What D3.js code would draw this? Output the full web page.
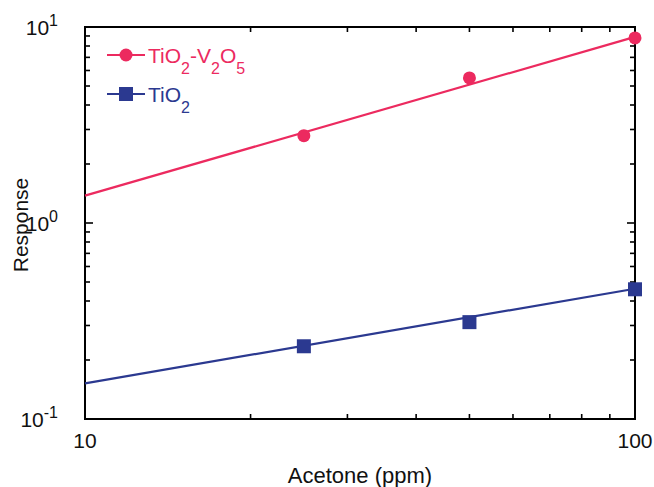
<!DOCTYPE html>
<html><head><meta charset="utf-8">
<script src="https://cdn.jsdelivr.net/npm/d3@7"></script>
<style>html,body{margin:0;padding:0;background:#fff}svg{display:block;font-family:"Liberation Sans",Arial,sans-serif}</style>
</head><body><svg id="c" width="654" height="487"></svg>
<script>
const concentrations = [25, 50, 100];
const tiO2V2O5 = [2.79, 5.5, 8.8];
const tiO2 = [0.235, 0.312, 0.459];
const fitX = [10, 100];
const fitTiO2V2O5 = [1.38, 8.9];
const fitTiO2 = [0.152, 0.462];
const xTicks = [10, 100];
const yTicks = [0.1, 1, 10];
const yTickExp = ["-1", "0", "1"];

const red = "#EC2A5F", blue = "#2B3990";
const svg = d3.select("#c");
const m = {l:85, r:635, t:27, b:419};
const x = d3.scaleLog().domain([10,100]).range([m.l, m.r]);
const y = d3.scaleLog().domain([0.1,10]).range([m.b, m.t]);

// minor ticks
const xMinor = d3.range(20,100,10);
const yMinor = [];
[0.1,1].forEach(d => { for (let k=2;k<=9;k++) yMinor.push(d*k); });
const g = svg.append("g").attr("stroke","#000").attr("stroke-width",1.6);
xMinor.forEach(v => {
  g.append("line").attr("x1",x(v)).attr("x2",x(v)).attr("y1",m.b).attr("y2",m.b-5);
  g.append("line").attr("x1",x(v)).attr("x2",x(v)).attr("y1",m.t).attr("y2",m.t+5);
});
yMinor.forEach(v => {
  g.append("line").attr("y1",y(v)).attr("y2",y(v)).attr("x1",m.l).attr("x2",m.l+5);
  g.append("line").attr("y1",y(v)).attr("y2",y(v)).attr("x1",m.r).attr("x2",m.r-5);
});
yTicks.forEach(v => {
  g.append("line").attr("y1",y(v)).attr("y2",y(v)).attr("x1",m.l).attr("x2",m.l+8);
  g.append("line").attr("y1",y(v)).attr("y2",y(v)).attr("x1",m.r).attr("x2",m.r-8);
});
xTicks.forEach(v => {
  g.append("line").attr("x1",x(v)).attr("x2",x(v)).attr("y1",m.b).attr("y2",m.b-8);
  g.append("line").attr("x1",x(v)).attr("x2",x(v)).attr("y1",m.t).attr("y2",m.t+8);
});
svg.append("rect").attr("x",m.l).attr("y",m.t).attr("width",m.r-m.l).attr("height",m.b-m.t)
  .attr("fill","none").attr("stroke","#000").attr("stroke-width",2);

// tick labels
xTicks.forEach(v => {
  svg.append("text").attr("x",x(v)).attr("y",448).attr("text-anchor","middle")
    .attr("font-size",21).attr("fill","#111").text(v);
});
yTicks.forEach((v,i) => {
  const t = svg.append("text").attr("x",58).attr("y",y(v)+8).attr("text-anchor","end")
    .attr("font-size",21).attr("fill","#111");
  t.append("tspan").text("10");
  t.append("tspan").attr("dy",-9).attr("font-size",16).text(yTickExp[i]);
});

// axis titles
svg.append("text").attr("x",360).attr("y",483).attr("text-anchor","middle")
  .attr("font-size",22).attr("fill","#111").text("Acetone (ppm)");
svg.append("text").attr("transform","translate(28,225) rotate(-90)").attr("text-anchor","middle")
  .attr("font-size",21).attr("fill","#111").text("Response");

// fit lines
const line = d3.line().x(d=>x(d[0])).y(d=>y(d[1]));
svg.append("path").attr("d",line(fitX.map((v,i)=>[v,fitTiO2V2O5[i]])))
  .attr("stroke",red).attr("stroke-width",2.2).attr("fill","none");
svg.append("path").attr("d",line(fitX.map((v,i)=>[v,fitTiO2[i]])))
  .attr("stroke",blue).attr("stroke-width",2.2).attr("fill","none");

// points
svg.selectAll("circle.p").data(concentrations).enter().append("circle")
  .attr("cx",d=>x(d)).attr("cy",(d,i)=>y(tiO2V2O5[i])).attr("r",6.5).attr("fill",red);
svg.selectAll("rect.p").data(concentrations).enter().append("rect")
  .attr("x",d=>x(d)-7).attr("y",(d,i)=>y(tiO2[i])-7).attr("width",14).attr("height",14).attr("fill",blue);

// legend
svg.append("line").attr("x1",107).attr("x2",145).attr("y1",55).attr("y2",55).attr("stroke",red).attr("stroke-width",2.2);
svg.append("circle").attr("cx",126).attr("cy",55).attr("r",6.5).attr("fill",red);
const t1 = svg.append("text").attr("x",148).attr("y",63).attr("font-size",21).attr("fill",red);
t1.append("tspan").text("TiO");
t1.append("tspan").attr("dy",11).attr("font-size",16).text("2");
t1.append("tspan").attr("dy",-11).text("-V");
t1.append("tspan").attr("dy",11).attr("font-size",16).text("2");
t1.append("tspan").attr("dy",-11).text("O");
t1.append("tspan").attr("dy",11).attr("font-size",16).text("5");

svg.append("line").attr("x1",107).attr("x2",145).attr("y1",94).attr("y2",94).attr("stroke",blue).attr("stroke-width",2.2);
svg.append("rect").attr("x",119).attr("y",87).attr("width",14).attr("height",14).attr("fill",blue);
const t2 = svg.append("text").attr("x",148).attr("y",102).attr("font-size",21).attr("fill",blue);
t2.append("tspan").text("TiO");
t2.append("tspan").attr("dy",11).attr("font-size",16).text("2");
</script></body></html>
